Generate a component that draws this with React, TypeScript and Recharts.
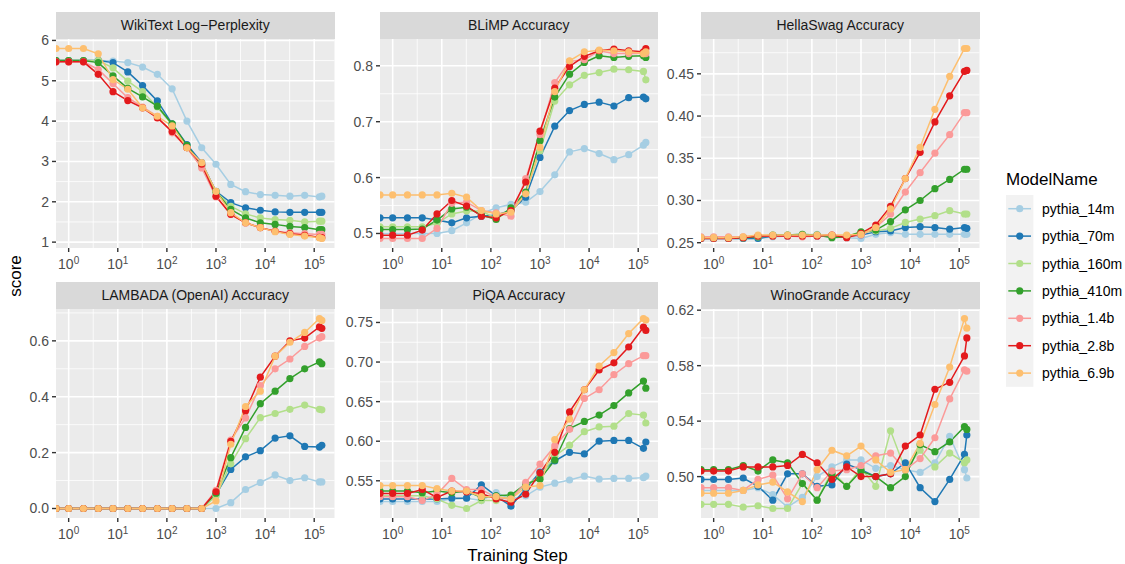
import React from "react";
import { LineChart, Line, XAxis, YAxis, CartesianGrid } from "recharts";

// Pythia checkpoints (training steps) shared by every facet
const STEPS = [0, 1, 2, 4, 8, 16, 32, 64, 128, 256, 512, 1000, 2000, 4000, 8000, 16000, 32000, 64000, 128000, 143000];

const MODELS = ["pythia_14m", "pythia_70m", "pythia_160m", "pythia_410m", "pythia_1.4b", "pythia_2.8b", "pythia_6.9b"];
const COLORS = ["#A6CEE3", "#1F78B4", "#B2DF8A", "#33A02C", "#FB9A99", "#E31A1C", "#FDBF6F"];

// one row per model, in MODELS order
const wikiText = [
  [5.5, 5.5, 5.5, 5.5, 5.49, 5.45, 5.34, 5.16, 4.8, 4.0, 3.34, 2.93, 2.43, 2.25, 2.18, 2.16, 2.14, 2.16, 2.12, 2.14],
  [5.5, 5.5, 5.5, 5.5, 5.45, 5.22, 4.88, 4.5, 3.93, 3.42, 2.97, 2.26, 1.98, 1.85, 1.79, 1.75, 1.74, 1.74, 1.74, 1.74],
  [5.5, 5.5, 5.5, 5.5, 5.32, 4.99, 4.73, 4.35, 3.9, 3.34, 2.87, 2.25, 1.89, 1.7, 1.6, 1.56, 1.54, 1.5, 1.52, 1.52],
  [5.5, 5.5, 5.5, 5.45, 5.12, 4.81, 4.6, 4.37, 3.93, 3.4, 2.9, 2.25, 1.81, 1.6, 1.48, 1.44, 1.39, 1.36, 1.31, 1.31],
  [5.47, 5.47, 5.47, 5.28, 4.93, 4.58, 4.35, 4.12, 3.71, 3.34, 2.84, 2.12, 1.69, 1.48, 1.36, 1.27, 1.23, 1.21, 1.19, 1.19],
  [5.47, 5.47, 5.47, 5.16, 4.73, 4.51, 4.33, 4.08, 3.74, 3.34, 2.93, 2.14, 1.69, 1.48, 1.36, 1.27, 1.21, 1.17, 1.12, 1.11],
  [5.8, 5.8, 5.8, 5.67, 5.03, 4.79, 4.33, 4.12, 3.88, 3.34, 2.97, 2.26, 1.73, 1.48, 1.36, 1.26, 1.19, 1.15, 1.11, 1.09],
];

const blimp = [
  [0.5, 0.5, 0.5, 0.5, 0.5, 0.505, 0.519, 0.535, 0.546, 0.552, 0.556, 0.575, 0.605, 0.646, 0.652, 0.643, 0.632, 0.641, 0.658, 0.663],
  [0.528, 0.528, 0.528, 0.528, 0.524, 0.519, 0.528, 0.531, 0.533, 0.541, 0.565, 0.636, 0.692, 0.72, 0.731, 0.735, 0.728, 0.743, 0.744, 0.741],
  [0.512, 0.512, 0.512, 0.512, 0.518, 0.535, 0.54, 0.54, 0.527, 0.541, 0.572, 0.648, 0.737, 0.766, 0.783, 0.788, 0.794, 0.793, 0.79, 0.775],
  [0.507, 0.507, 0.507, 0.508, 0.524, 0.544, 0.547, 0.533, 0.525, 0.546, 0.574, 0.666, 0.744, 0.785, 0.806, 0.818, 0.815, 0.817, 0.818, 0.815],
  [0.491, 0.491, 0.491, 0.491, 0.509, 0.554, 0.556, 0.541, 0.537, 0.531, 0.598, 0.677, 0.77, 0.808, 0.811, 0.827, 0.822, 0.822, 0.822, 0.822],
  [0.497, 0.497, 0.497, 0.506, 0.535, 0.559, 0.549, 0.531, 0.528, 0.541, 0.592, 0.683, 0.76, 0.799, 0.817, 0.827, 0.83, 0.827, 0.825, 0.831],
  [0.569, 0.569, 0.569, 0.569, 0.569, 0.572, 0.565, 0.541, 0.535, 0.538, 0.571, 0.654, 0.754, 0.809, 0.825, 0.828, 0.827, 0.825, 0.822, 0.825],
];

const hellaSwag = [
  [0.255, 0.255, 0.255, 0.255, 0.255, 0.257, 0.258, 0.259, 0.26, 0.258, 0.256, 0.255, 0.26, 0.262, 0.26, 0.26, 0.26, 0.26, 0.26, 0.26],
  [0.255, 0.255, 0.255, 0.255, 0.255, 0.258, 0.258, 0.258, 0.258, 0.258, 0.257, 0.259, 0.263, 0.264, 0.268, 0.269, 0.268, 0.266, 0.268, 0.267],
  [0.256, 0.256, 0.256, 0.256, 0.257, 0.258, 0.259, 0.259, 0.259, 0.258, 0.258, 0.262, 0.264, 0.267, 0.274, 0.278, 0.282, 0.288, 0.284, 0.284],
  [0.256, 0.256, 0.256, 0.256, 0.257, 0.259, 0.259, 0.26, 0.259, 0.256, 0.257, 0.263, 0.265, 0.275, 0.289, 0.3, 0.314, 0.325, 0.337, 0.337],
  [0.257, 0.257, 0.257, 0.257, 0.258, 0.258, 0.258, 0.257, 0.258, 0.259, 0.257, 0.259, 0.268, 0.284, 0.31, 0.333, 0.356, 0.378, 0.404, 0.404],
  [0.255, 0.255, 0.255, 0.256, 0.258, 0.258, 0.258, 0.258, 0.258, 0.259, 0.256, 0.261, 0.271, 0.293, 0.326, 0.357, 0.393, 0.424, 0.453, 0.454],
  [0.256, 0.256, 0.256, 0.257, 0.259, 0.259, 0.259, 0.259, 0.259, 0.259, 0.259, 0.26, 0.268, 0.29, 0.326, 0.363, 0.408, 0.447, 0.48, 0.48],
];

const lambada = [
  [0, 0, 0, 0, 0, 0, 0, 0, 0, 0, 0, 0.0, 0.021, 0.068, 0.093, 0.12, 0.1, 0.11, 0.095, 0.095],
  [0, 0, 0, 0, 0, 0, 0, 0, 0, 0, 0, 0.05, 0.14, 0.185, 0.207, 0.252, 0.26, 0.222, 0.22, 0.226],
  [0, 0, 0, 0, 0, 0, 0, 0, 0, 0, 0, 0.045, 0.16, 0.25, 0.325, 0.34, 0.355, 0.37, 0.355, 0.353],
  [0, 0, 0, 0, 0, 0, 0, 0, 0, 0, 0, 0.055, 0.182, 0.29, 0.375, 0.42, 0.465, 0.5, 0.525, 0.518],
  [0, 0, 0, 0, 0, 0, 0, 0, 0, 0, 0, 0.065, 0.245, 0.324, 0.44, 0.5, 0.535, 0.58, 0.61, 0.615],
  [0, 0, 0, 0, 0, 0, 0, 0, 0, 0, 0, 0.06, 0.24, 0.35, 0.47, 0.545, 0.6, 0.61, 0.65, 0.645],
  [0, 0, 0, 0, 0, 0, 0, 0, 0, 0, 0, 0.027, 0.23, 0.365, 0.42, 0.545, 0.595, 0.63, 0.68, 0.673],
];

const piqa = [
  [0.524, 0.524, 0.524, 0.524, 0.524, 0.527, 0.528, 0.525, 0.535, 0.527, 0.531, 0.542, 0.547, 0.551, 0.556, 0.552, 0.553, 0.553, 0.554, 0.556],
  [0.527, 0.527, 0.527, 0.527, 0.527, 0.528, 0.528, 0.545, 0.531, 0.518, 0.54, 0.561, 0.575, 0.586, 0.584, 0.6, 0.601, 0.601, 0.591, 0.599],
  [0.531, 0.531, 0.531, 0.531, 0.527, 0.519, 0.515, 0.525, 0.525, 0.531, 0.544, 0.556, 0.581, 0.595, 0.612, 0.618, 0.619, 0.635, 0.633, 0.623],
  [0.537, 0.537, 0.537, 0.535, 0.537, 0.535, 0.537, 0.529, 0.531, 0.532, 0.546, 0.552, 0.576, 0.616, 0.625, 0.633, 0.645, 0.661, 0.676, 0.667],
  [0.53, 0.53, 0.53, 0.525, 0.533, 0.553, 0.539, 0.539, 0.529, 0.527, 0.548, 0.571, 0.594, 0.615, 0.654, 0.665, 0.684, 0.698, 0.708, 0.708],
  [0.534, 0.534, 0.534, 0.539, 0.529, 0.537, 0.536, 0.534, 0.527, 0.523, 0.533, 0.56, 0.586, 0.637, 0.665, 0.69, 0.699, 0.719, 0.744, 0.74],
  [0.544, 0.544, 0.544, 0.544, 0.54, 0.537, 0.537, 0.53, 0.53, 0.527, 0.542, 0.544, 0.602, 0.628, 0.665, 0.695, 0.712, 0.736, 0.755, 0.753],
];

const winoGrande = [
  [0.49, 0.49, 0.49, 0.49, 0.492, 0.487, 0.478, 0.485, 0.5, 0.507, 0.512, 0.512, 0.506, 0.508, 0.505, 0.503, 0.51, 0.529, 0.505, 0.499],
  [0.498, 0.498, 0.498, 0.499, 0.493, 0.483, 0.502, 0.502, 0.493, 0.494, 0.509, 0.505, 0.5, 0.502, 0.51, 0.492, 0.482, 0.498, 0.516, 0.53],
  [0.48, 0.48, 0.48, 0.478, 0.479, 0.477, 0.477, 0.495, 0.483, 0.504, 0.493, 0.506, 0.493, 0.533, 0.505, 0.519, 0.507, 0.517, 0.51, 0.512],
  [0.505, 0.505, 0.505, 0.508, 0.504, 0.512, 0.51, 0.495, 0.483, 0.502, 0.493, 0.504, 0.5, 0.492, 0.5, 0.523, 0.518, 0.525, 0.536, 0.534],
  [0.492, 0.492, 0.492, 0.49, 0.498, 0.501, 0.484, 0.502, 0.492, 0.504, 0.505, 0.508, 0.515, 0.517, 0.505, 0.513, 0.528, 0.556, 0.577, 0.576],
  [0.504, 0.504, 0.504, 0.507, 0.507, 0.507, 0.508, 0.516, 0.51, 0.498, 0.507, 0.5, 0.5, 0.502, 0.522, 0.53, 0.563, 0.568, 0.587, 0.6],
  [0.488, 0.488, 0.488, 0.49, 0.494, 0.496, 0.489, 0.482, 0.505, 0.519, 0.515, 0.522, 0.512, 0.503, 0.505, 0.524, 0.552, 0.579, 0.614, 0.607],
];

const X_TICKS = [1, 10, 100, 1000, 10000, 100000];
const X_MINOR = [0.5, 1.5, 2.5, 3.5, 4.5].map((e) => Math.pow(10, e));

// log10 axis with 5% expansion around the non-zero steps
const L_MAX = Math.log10(STEPS[STEPS.length - 1]);
const X_PAD = 0.05 * L_MAX;
const X_MIN = Math.pow(10, -X_PAD);
const X_MAX = Math.pow(10, L_MAX + X_PAD);
// step 0 is -Inf on the log scale, so it sits on the left edge of the panel
const stepX = (s: number) => (s === 0 ? X_MIN : s);

const FONT = '"Liberation Sans", Arial, Helvetica, sans-serif';
const COL_LEFT = [56, 379.5, 701];
const ROW_TOP = [12, 282];
const PANEL_W = 278.5;
const PANEL_H = 209;
const STRIP_H = 26.5;
const YW = 50;
const XH = 34;
const TOP_PAD = 10; // room above the panel so the top tick label isn't cut

type PanelSpec = {
  title: string;
  values: number[][];
  ticks: number[];
  minor: number[];
  digits: number;
  col: number;
  row: number;
};

const PANELS: PanelSpec[] = [
  { title: "WikiText Log\u2212Perplexity", values: wikiText, ticks: [1, 2, 3, 4, 5, 6], minor: [1.5, 2.5, 3.5, 4.5, 5.5], digits: 0, col: 0, row: 0 },
  { title: "BLiMP Accuracy", values: blimp, ticks: [0.5, 0.6, 0.7, 0.8], minor: [0.55, 0.65, 0.75], digits: 1, col: 1, row: 0 },
  { title: "HellaSwag Accuracy", values: hellaSwag, ticks: [0.25, 0.3, 0.35, 0.4, 0.45], minor: [0.275, 0.325, 0.375, 0.425, 0.475], digits: 2, col: 2, row: 0 },
  { title: "LAMBADA (OpenAI) Accuracy", values: lambada, ticks: [0, 0.2, 0.4, 0.6], minor: [0.1, 0.3, 0.5, 0.7], digits: 1, col: 0, row: 1 },
  { title: "PiQA Accuracy", values: piqa, ticks: [0.55, 0.6, 0.65, 0.7, 0.75], minor: [0.525, 0.575, 0.625, 0.675, 0.725], digits: 2, col: 1, row: 1 },
  { title: "WinoGrande Accuracy", values: winoGrande, ticks: [0.5, 0.54, 0.58, 0.62], minor: [0.48, 0.52, 0.56, 0.6], digits: 2, col: 2, row: 1 },
];

// 10^k labels with a raised exponent
const LogTick = (props: any) => {
  const { x, y, payload } = props;
  const exp = Math.round(Math.log10(payload.value));
  return (
    <text x={x} y={y + 15} textAnchor="middle" fill="#4D4D4D" fontSize={14} fontFamily={FONT}>
      <tspan>10</tspan>
      <tspan dy={-5} fontSize={10}>{exp}</tspan>
    </text>
  );
};

function Facet({ spec }: { spec: PanelSpec }) {
  const rows = STEPS.map((s, i) => {
    const row: Record<string, number> = { x: stepX(s) };
    spec.values.forEach((series, k) => {
      row["s" + k] = series[i];
    });
    return row;
  });
  const all = spec.values.flat();
  const lo = Math.min(...all);
  const hi = Math.max(...all);
  const pad = 0.05 * (hi - lo);
  const left = COL_LEFT[spec.col];
  const top = ROW_TOP[spec.row];

  return (
    <>
      <div
        style={{
          position: "absolute",
          left,
          top,
          width: PANEL_W,
          height: STRIP_H,
          background: "#D9D9D9",
          color: "#1A1A1A",
          fontSize: 14,
          lineHeight: `${STRIP_H}px`,
          textAlign: "center",
        }}
      >
        {spec.title}
      </div>
      <div style={{ position: "absolute", left: left - YW, top: top + STRIP_H - TOP_PAD }}>
        <LineChart
          width={YW + PANEL_W}
          height={PANEL_H + XH + TOP_PAD}
          data={rows}
          margin={{ top: TOP_PAD, right: 0, bottom: 0, left: 0 }}
        >
          <CartesianGrid fill="#EBEBEB" stroke="#FFFFFF" strokeWidth={0.8} horizontalValues={spec.minor} verticalValues={X_MINOR} />
          <CartesianGrid stroke="#FFFFFF" strokeWidth={1.6} horizontalValues={spec.ticks} verticalValues={X_TICKS} />
          <XAxis
            dataKey="x"
            type="number"
            scale="log"
            domain={[X_MIN, X_MAX]}
            ticks={X_TICKS}
            allowDataOverflow
            interval={0}
            height={XH}
            axisLine={false}
            tickSize={4}
            tickMargin={2}
            tickLine={{ stroke: "#333333", strokeWidth: 1.4 }}
            tick={<LogTick />}
          />
          <YAxis
            type="number"
            domain={[lo - pad, hi + pad]}
            ticks={spec.ticks}
            allowDataOverflow
            interval={0}
            width={YW}
            axisLine={false}
            tickSize={4}
            tickMargin={3}
            tickLine={{ stroke: "#333333", strokeWidth: 1.4 }}
            tick={{ fill: "#4D4D4D", fontSize: 14, fontFamily: FONT }}
            tickFormatter={(v: number) => v.toFixed(spec.digits)}
          />
          {COLORS.map((c, k) => (
            <Line
              key={"p" + k}
              dataKey={"s" + k}
              stroke="none"
              dot={{ r: 3.6, fill: c, stroke: "none" }}
              activeDot={false}
              isAnimationActive={false}
            />
          ))}
          {COLORS.map((c, k) => (
            <Line
              key={"l" + k}
              type="linear"
              dataKey={"s" + k}
              stroke={c}
              strokeWidth={1.5}
              dot={false}
              activeDot={false}
              isAnimationActive={false}
            />
          ))}
        </LineChart>
      </div>
    </>
  );
}

export default function App() {
  const keyTop = 195;
  const keyH = 27.4;
  return (
    <div
      style={{
        position: "fixed",
        left: 0,
        top: 0,
        width: 1125,
        height: 564,
        background: "#FFFFFF",
        fontFamily: FONT,
        overflow: "hidden",
      }}
    >
      {PANELS.map((p) => (
        <Facet key={p.title} spec={p} />
      ))}
      <svg width={1125} height={564} style={{ position: "absolute", left: 0, top: 0, pointerEvents: "none" }}>
        <text x={20.5} y={276} transform="rotate(-90 20.5 276)" textAnchor="middle" fontSize={17} fill="#000">
          score
        </text>
        <text x={517.5} y={560.5} textAnchor="middle" fontSize={17} fill="#000">
          Training Step
        </text>
        <text x={1006} y={185} fontSize={17} fill="#000">
          ModelName
        </text>
        <rect x={1006} y={keyTop} width={27.4} height={keyH * MODELS.length} fill="#F2F2F2" />
        {MODELS.map((m, i) => {
          const cy = keyTop + keyH * (i + 0.5);
          return (
            <g key={m}>
              <line x1={1008.3} x2={1031} y1={cy} y2={cy} stroke={COLORS[i]} strokeWidth={1.5} />
              <circle cx={1019.7} cy={cy} r={3.6} fill={COLORS[i]} />
              <text x={1042} y={cy + 5} fontSize={14} fill="#000">
                {m}
              </text>
            </g>
          );
        })}
      </svg>
    </div>
  );
}
